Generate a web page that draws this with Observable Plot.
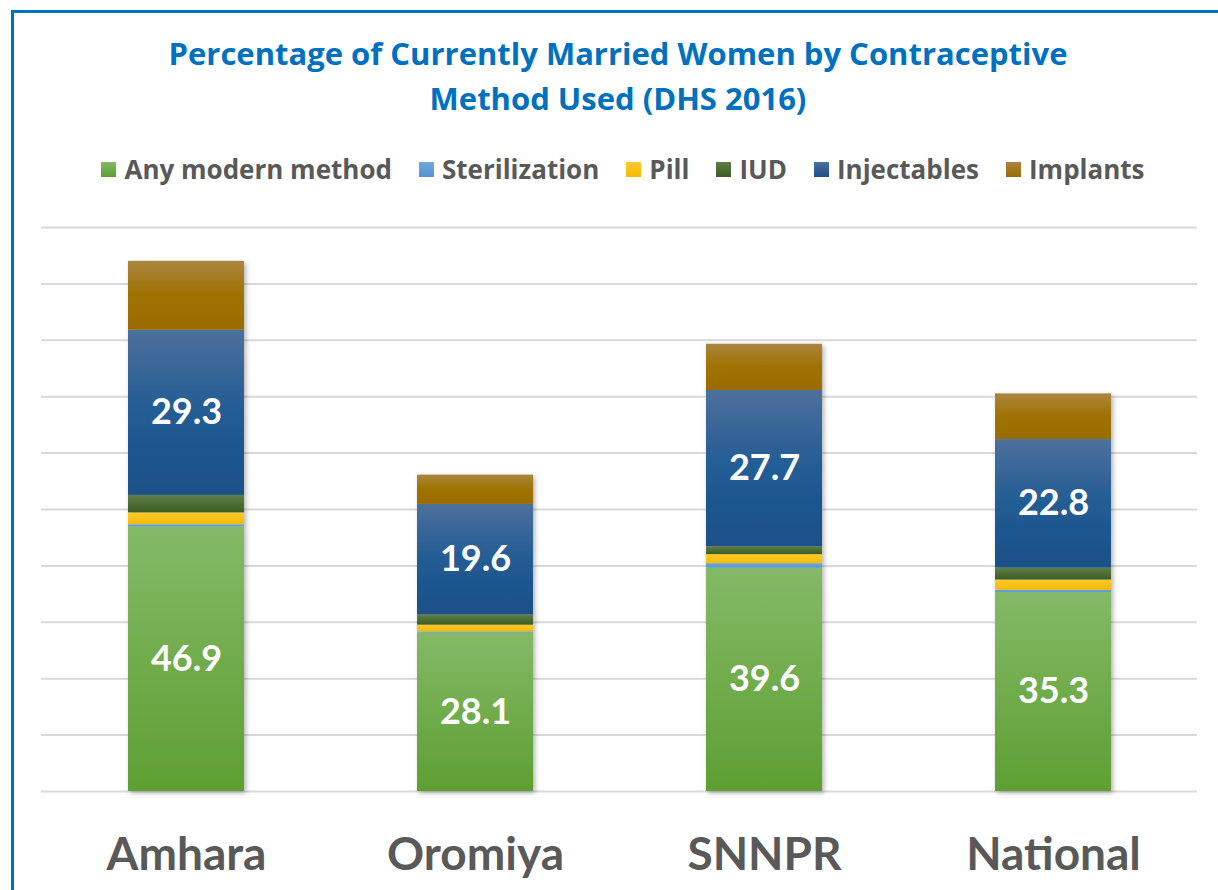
<!DOCTYPE html>
<html><head><meta charset="utf-8">
<script src="https://cdn.jsdelivr.net/npm/d3@7"></script>
<script src="https://cdn.jsdelivr.net/npm/@observablehq/plot@0.6"></script>
<style>
html,body{margin:0;padding:0;background:#fff;overflow:hidden;width:1218px;height:890px;}
#frame{position:absolute;left:11px;top:10px;width:1300px;height:1000px;border:3px solid #0070C0;box-sizing:border-box;}
#title{position:absolute;left:0;top:31px;width:1236px;text-align:center;font-family:"Open Sans",sans-serif;font-weight:bold;font-size:31px;color:#0070C0;line-height:45px;}
#legend{position:absolute;left:0;top:154px;width:1246px;height:30px;display:flex;justify-content:center;align-items:center;gap:27px;font-family:"Open Sans",sans-serif;font-weight:bold;font-size:26px;color:#595959;}
#legend .item{display:flex;align-items:center;}
#legend .sw{width:15px;height:15px;margin-right:8px;}
#chart{position:absolute;left:0;top:200px;}
#chart svg [aria-label="x-axis tick label"] text{font-weight:bold;fill:#595959;}
</style>
</head>
<body>
<div id="frame"></div>
<div id="title">Percentage of Currently Married Women by Contraceptive<br>Method Used (DHS 2016)</div>
<div id="legend"></div>
<div id="chart"></div>
<script>
// ---- data ----
const regions = ["Amhara", "Oromiya", "SNNPR", "National"];
const methods = ["Any modern method", "Sterilization", "Pill", "IUD", "Injectables", "Implants"];
const anyModern     = [46.9, 28.1, 39.6, 35.3];
const sterilization = [0.4, 0.2, 0.8, 0.4];
const pill          = [2.1, 1.2, 1.6, 1.8];
const iud           = [3.1, 1.8, 1.4, 2.1];
const injectables   = [29.3, 19.6, 27.7, 22.8];
const implants      = [12.2, 5.2, 8.2, 8.1];
const labelledMethods = ["Any modern method", "Injectables"];

// ---- styles ----
const gradientStops = [
  [["0", "#84b967"], ["1", "#5e9f32"]],
  [["0", "#6fa8de"], ["1", "#5592cf"]],
  [["0", "#ffc92e"], ["1", "#f6bb00"]],
  [["0", "#607e48"], ["1", "#3b5e22"]],
  [["0", "#4d709c"], ["0.5", "#225c94"], ["1", "#1a5088"]],
  [["0", "#aa8540"], ["0.5", "#9f7200"], ["1", "#9a6c00"]]
];
const gradIds = methods.map((m, i) => "grad" + i);

// defs (hidden svg)
const defsSvg = d3.select("body").append("svg").attr("width", 0).attr("height", 0)
  .style("position", "absolute");
const defs = defsSvg.append("defs");
gradIds.forEach((id, i) => {
  const g = defs.append("linearGradient").attr("id", id)
    .attr("x1", 0).attr("y1", 0).attr("x2", 0).attr("y2", 1);
  gradientStops[i].forEach(([o, c]) => g.append("stop").attr("offset", o).attr("stop-color", c));
});
const f = defs.append("filter").attr("id", "shadow").attr("x", "-20%").attr("y", "-5%").attr("width", "140%").attr("height", "115%");
f.append("feDropShadow").attr("dx", 2).attr("dy", 2).attr("stdDeviation", 2.5)
  .attr("flood-color", "#000").attr("flood-opacity", 0.3);

// legend
const legend = d3.select("#legend");
methods.forEach((m, i) => {
  const it = legend.append("div").attr("class", "item");
  const stops = gradientStops[i];
  it.append("div").attr("class", "sw")
    .style("background", `linear-gradient(to bottom, ${stops[0][1]}, ${stops[stops.length - 1][1]})`);
  it.append("span").text(m);
});

// table
const seriesValues = [anyModern, sterilization, pill, iud, injectables, implants];
const data = methods.flatMap((m, i) => regions.map((r, j) => ({region: r, method: m, value: seriesValues[i][j]})));

const chart = Plot.plot({
  width: 1218,
  height: 690,
  marginTop: 27,
  marginBottom: 99,
  marginLeft: 41,
  marginRight: 21,
  style: {fontFamily: "Lato, sans-serif", background: "transparent", overflow: "visible"},
  x: {domain: regions, paddingInner: 0.6, paddingOuter: 0.3, label: null},
  y: {domain: [0, 100], axis: null},
  color: {domain: methods, range: gradIds.map(id => `url(#${id})`)},
  marks: [
    Plot.ruleY(d3.range(0, 101, 10), {stroke: "#d9d9d9", strokeWidth: 2}),
    Plot.barY(data, {x: "region", y: "value", fill: "method", order: methods}),
    Plot.text(data, Plot.stackY({
      x: "region", y: "value", z: "method", order: methods,
      text: d => labelledMethods.includes(d.method) ? d.value.toFixed(1) : null,
      fill: "white", fontSize: 36, fontWeight: "bold"
    })),
    Plot.axisX({tickSize: 0, tickPadding: 46, fontSize: 46, fontWeight: "bold", label: null})
  ]
});
d3.select(chart).selectAll('g[aria-label="bar"]').attr("filter", "url(#shadow)");
document.getElementById("chart").appendChild(chart);
</script>
</body></html>
